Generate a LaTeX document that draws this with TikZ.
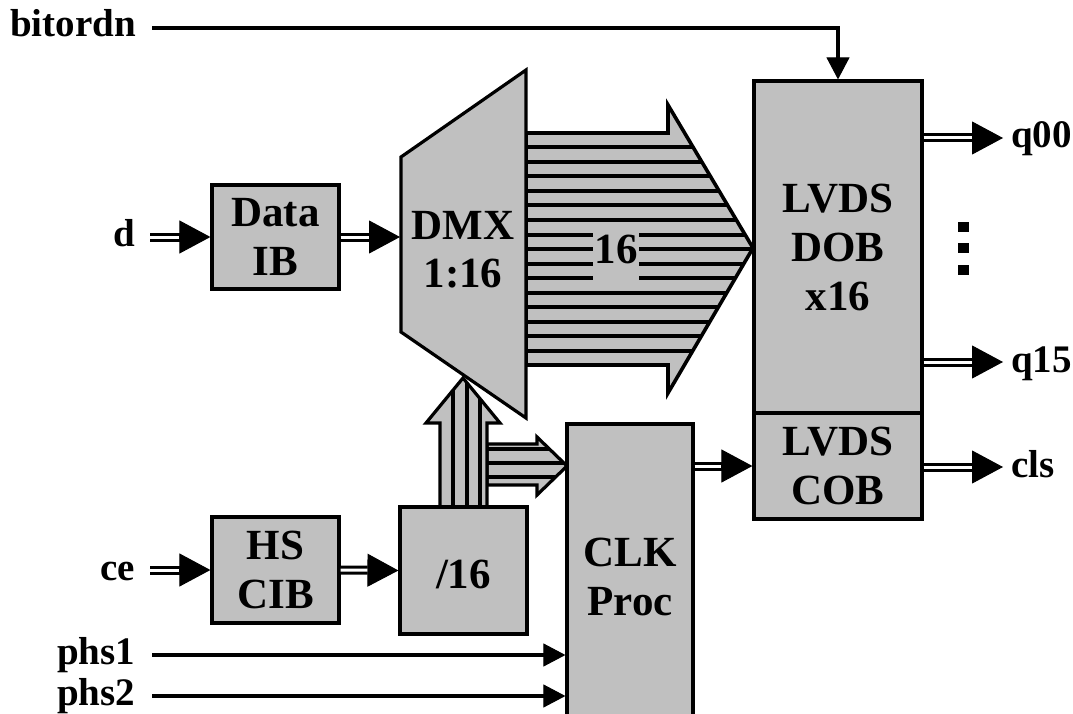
\documentclass[tikz,border=0pt]{standalone}
\usepackage{fontspec}
\setmainfont{Liberation Serif}
\usetikzlibrary{arrows.meta,calc}
\definecolor{silver}{RGB}{192,192,192}
\tikzset{
  blk/.style={draw, fill=silver, line width=3.2pt, inner sep=0pt, align=center, font=\fontsize{43}{49}\selectfont\bfseries},
  txt/.style={inner sep=0pt, align=center, font=\fontsize{43}{48}\selectfont\bfseries},
  lbl/.style={inner sep=0pt, font=\fontsize{39}{46}\selectfont\bfseries},
  dbl/.style={line width=9pt, -{Triangle[length=31pt,width=33pt,line width=1pt]}, postaction={draw=white, line width=3pt, -, shorten >=31pt}},
  sgl/.style={line width=3.2pt, -{Triangle[length=22pt,width=23pt,line width=1pt]}},
  outl/.style={line width=3.2pt, line join=miter},
  stripe/.style={line width=4pt},
  dotsq/.style={fill=black, inner sep=0pt, minimum width=11pt, minimum height=10pt},
}
\begin{document}
\begin{tikzpicture}[x=1pt,y=-1pt]
\useasboundingbox (0,0) rectangle (1073,714);
\clip (0,0) rectangle (1073,714);

% big striped arrow (16 lines)
\fill[silver] (526,133) -- (668,133) -- (668,105) -- (753,248) -- (668,393) -- (668,365) -- (526,365) -- cycle;
\begin{scope}
  \clip (526,133) -- (668,133) -- (668,105) -- (753,248) -- (668,393) -- (668,365) -- (526,365) -- cycle;
  \foreach \k in {1,...,15} \draw[stripe] (520,133+14.5*\k) -- (760,133+14.5*\k);
\end{scope}
\draw[outl, line width=3.6pt] (526,133) -- (668,133) -- (668,105) -- (753,248) -- (668,393) -- (668,365) -- (526,365) -- cycle;
\node[fill=silver, inner sep=0pt, minimum width=46pt, text height=37pt, text depth=22pt, anchor=base, font=\fontsize{43}{48}\selectfont\bfseries] (n16) at (616,263) {16};

% DMX trapezoid
\draw[outl, fill=silver] (401,157) -- (526,70) -- (526,418) -- (401,332) -- cycle;
\node[txt] (dmx) at (463,250) {DMX\\1:16};
\coordinate (dmxin) at (400,237);

% small right striped arrow to CLK Proc
\fill[silver] (487,444) -- (537,444) -- (537,437) -- (567,466) -- (537,495) -- (537,485) -- (487,485) -- cycle;
\begin{scope}
  \clip (487,444) -- (537,444) -- (537,437) -- (567,466) -- (537,495) -- (537,485) -- (487,485) -- cycle;
  \foreach \yy in {449,463,477} \draw[stripe] (480,\yy) -- (570,\yy);
\end{scope}
\draw[outl] (487,444) -- (537,444) -- (537,437) -- (567,466) -- (537,495) -- (537,485) -- (487,485) -- cycle;

% up striped arrow to DMX
\fill[silver] (440,507) -- (440,423) -- (426,423) -- (463,378) -- (500,423) -- (487,423) -- (487,507) -- cycle;
\begin{scope}
  \clip (440,507) -- (440,423) -- (426,423) -- (463,378) -- (500,423) -- (487,423) -- (487,507) -- cycle;
  \foreach \xx in {453,466.5,480} \draw[stripe] (\xx,370) -- (\xx,512);
\end{scope}
\draw[outl] (440,507) -- (440,423) -- (426,423) -- (463,378) -- (500,423) -- (487,423) -- (487,507) -- cycle;

% blocks
\node[blk, minimum width=127pt, minimum height=104pt] (dib) at (275.5,237) {Data\\IB};
\node[blk, minimum width=127pt, minimum height=106pt] (cib) at (275.5,570) {HS\\CIB};
\node[blk, minimum width=127pt, minimum height=127pt, text height=35pt, text depth=0pt] (div) at (463.5,570.5) {/16};
\node[blk, minimum width=126pt, minimum height=306pt] (clk) at (630,577) {CLK\\Proc};
\node[blk, minimum width=168pt, minimum height=332pt] (dob) at (838,247) {LVDS\\DOB\\x16};
\node[blk, minimum width=168pt, minimum height=106pt] (cob) at (838,466) {LVDS\\COB};

% input labels
\node[lbl, anchor=base west] (lbit) at (10,37) {bitordn};
\node[lbl, anchor=base east] (ld) at (135,246) {d};
\node[lbl, anchor=base east] (lce) at (135,580) {ce};
\node[lbl, anchor=base west] (lp1) at (57,664) {phs1};
\node[lbl, anchor=base west] (lp2) at (57,705) {phs2};

\coordinate (bits) at (152,28);
\coordinate (ds) at (150,237);
\coordinate (ces) at (150,570);
\coordinate (p1s) at (152,655);
\coordinate (p2s) at (152,696);

% connectors
\draw[sgl] (bits) -| (dob.north);
\draw[dbl] (ds) -- (dib.west);
\draw[dbl] (dib.east) -- (dmxin);
\draw[dbl] (ces) -- (cib.west);
\draw[dbl] (cib.east) -- (div.west);
\draw[sgl] (p1s) -- (clk.west |- p1s);
\draw[sgl] (p2s) -- (clk.west |- p2s);
\draw[dbl] (clk.east |- cob.west) -- (cob.west);

% outputs
\coordinate (q0) at (1003,138);
\coordinate (q15) at (1003,362);
\coordinate (qc) at (1003,467);
\draw[dbl] (dob.east |- q0) -- (q0);
\draw[dbl] (dob.east |- q15) -- (q15);
\draw[dbl] (cob.east |- qc) -- (qc);
\node[lbl, anchor=base west] (lq0) at (1011,148) {q00};
\node[lbl, anchor=base west] (lq15) at (1011,372) {q15};
\node[lbl, anchor=base west] (lcls) at (1011,477) {cls};

% vertical dots
\node[dotsq] (dt1) at (963.5,227) {};
\node[dotsq] (dt2) at (963.5,248) {};
\node[dotsq] (dt3) at (963.5,269.5) {};
\end{tikzpicture}
\end{document}
